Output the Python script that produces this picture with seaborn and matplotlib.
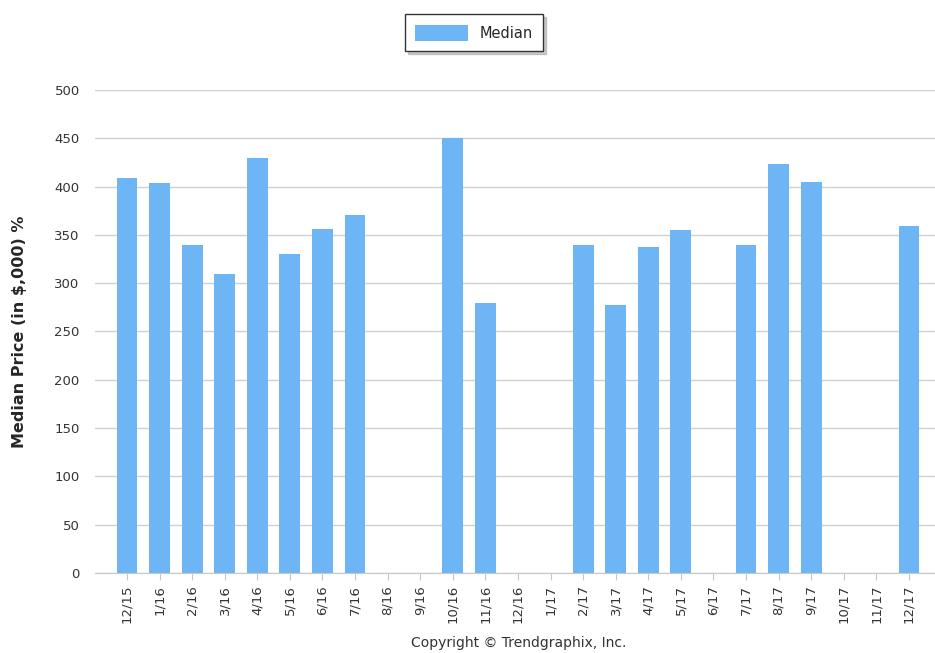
import numpy as np
import pandas as pd
import seaborn as sns
from matplotlib import pyplot as plt

# months and median price (in $,000); NaN = no sales that month
months = ['12/15', '1/16', '2/16', '3/16', '4/16', '5/16', '6/16', '7/16', '8/16',
          '9/16', '10/16', '11/16', '12/16', '1/17', '2/17', '3/17', '4/17', '5/17',
          '6/17', '7/17', '8/17', '9/17', '10/17', '11/17', '12/17']
median = [409, 404, 340, 310, 430, 330, 356, 371, np.nan,
          np.nan, 450, 280, np.nan, np.nan, 340, 277, 337, 355,
          np.nan, 340, 423, 405, np.nan, np.nan, 359]
y_ticks = [0, 50, 100, 150, 200, 250, 300, 350, 400, 450, 500]

data = pd.DataFrame({'month': months, 'median': median})

sns.set_style('white')
plt.rcParams['font.family'] = ['DejaVu Sans']

fig = plt.figure(figsize=(9.35, 6.53), dpi=100)
ax = fig.add_axes([0.1016, 0.1225, 0.8984, 0.7397])

sns.barplot(data=data, x='month', y='median', order=months, color='#6db5f4',
            saturation=1, width=0.64, linewidth=0, label='Median', ax=ax)

ax.set_ylim(0, 500)
ax.set_xlim(-0.98, 24.8)
ax.set_yticks(y_ticks)
ax.yaxis.grid(True, color='#d0d0d0', linewidth=1)
ax.set_axisbelow(True)
for s in ['top', 'right', 'left']:
    ax.spines[s].set_visible(False)
ax.spines['bottom'].set_color('#c8c8c8')
ax.tick_params(axis='y', length=8, color='#c8c8c8', labelsize=9.5, labelcolor='#333333', pad=3)
ax.tick_params(axis='x', length=5, color='#c8c8c8', labelsize=9.5, labelcolor='#333333',
               labelrotation=90, bottom=True)
ax.set_xlabel('')
ax.set_ylabel('Median Price (in $,000) %', fontsize=11.5, fontweight='bold', labelpad=20)

if ax.legend_:
    ax.legend_.remove()
leg = fig.legend(loc='center', bbox_to_anchor=(0.507, 0.95), fontsize=10.5,
                 frameon=True, fancybox=False, shadow={'ox': 2, 'oy': -2, 'color': '#999999'},
                 edgecolor='#333333', handlelength=3.6, handleheight=1.3, borderpad=0.7,
                 handletextpad=0.8)

fig.text(0.555, 0.004, 'Copyright \u00a9 Trendgraphix, Inc.', ha='center', va='bottom',
         fontsize=10, color='#333333')

fig.savefig('out.png', dpi=100)
